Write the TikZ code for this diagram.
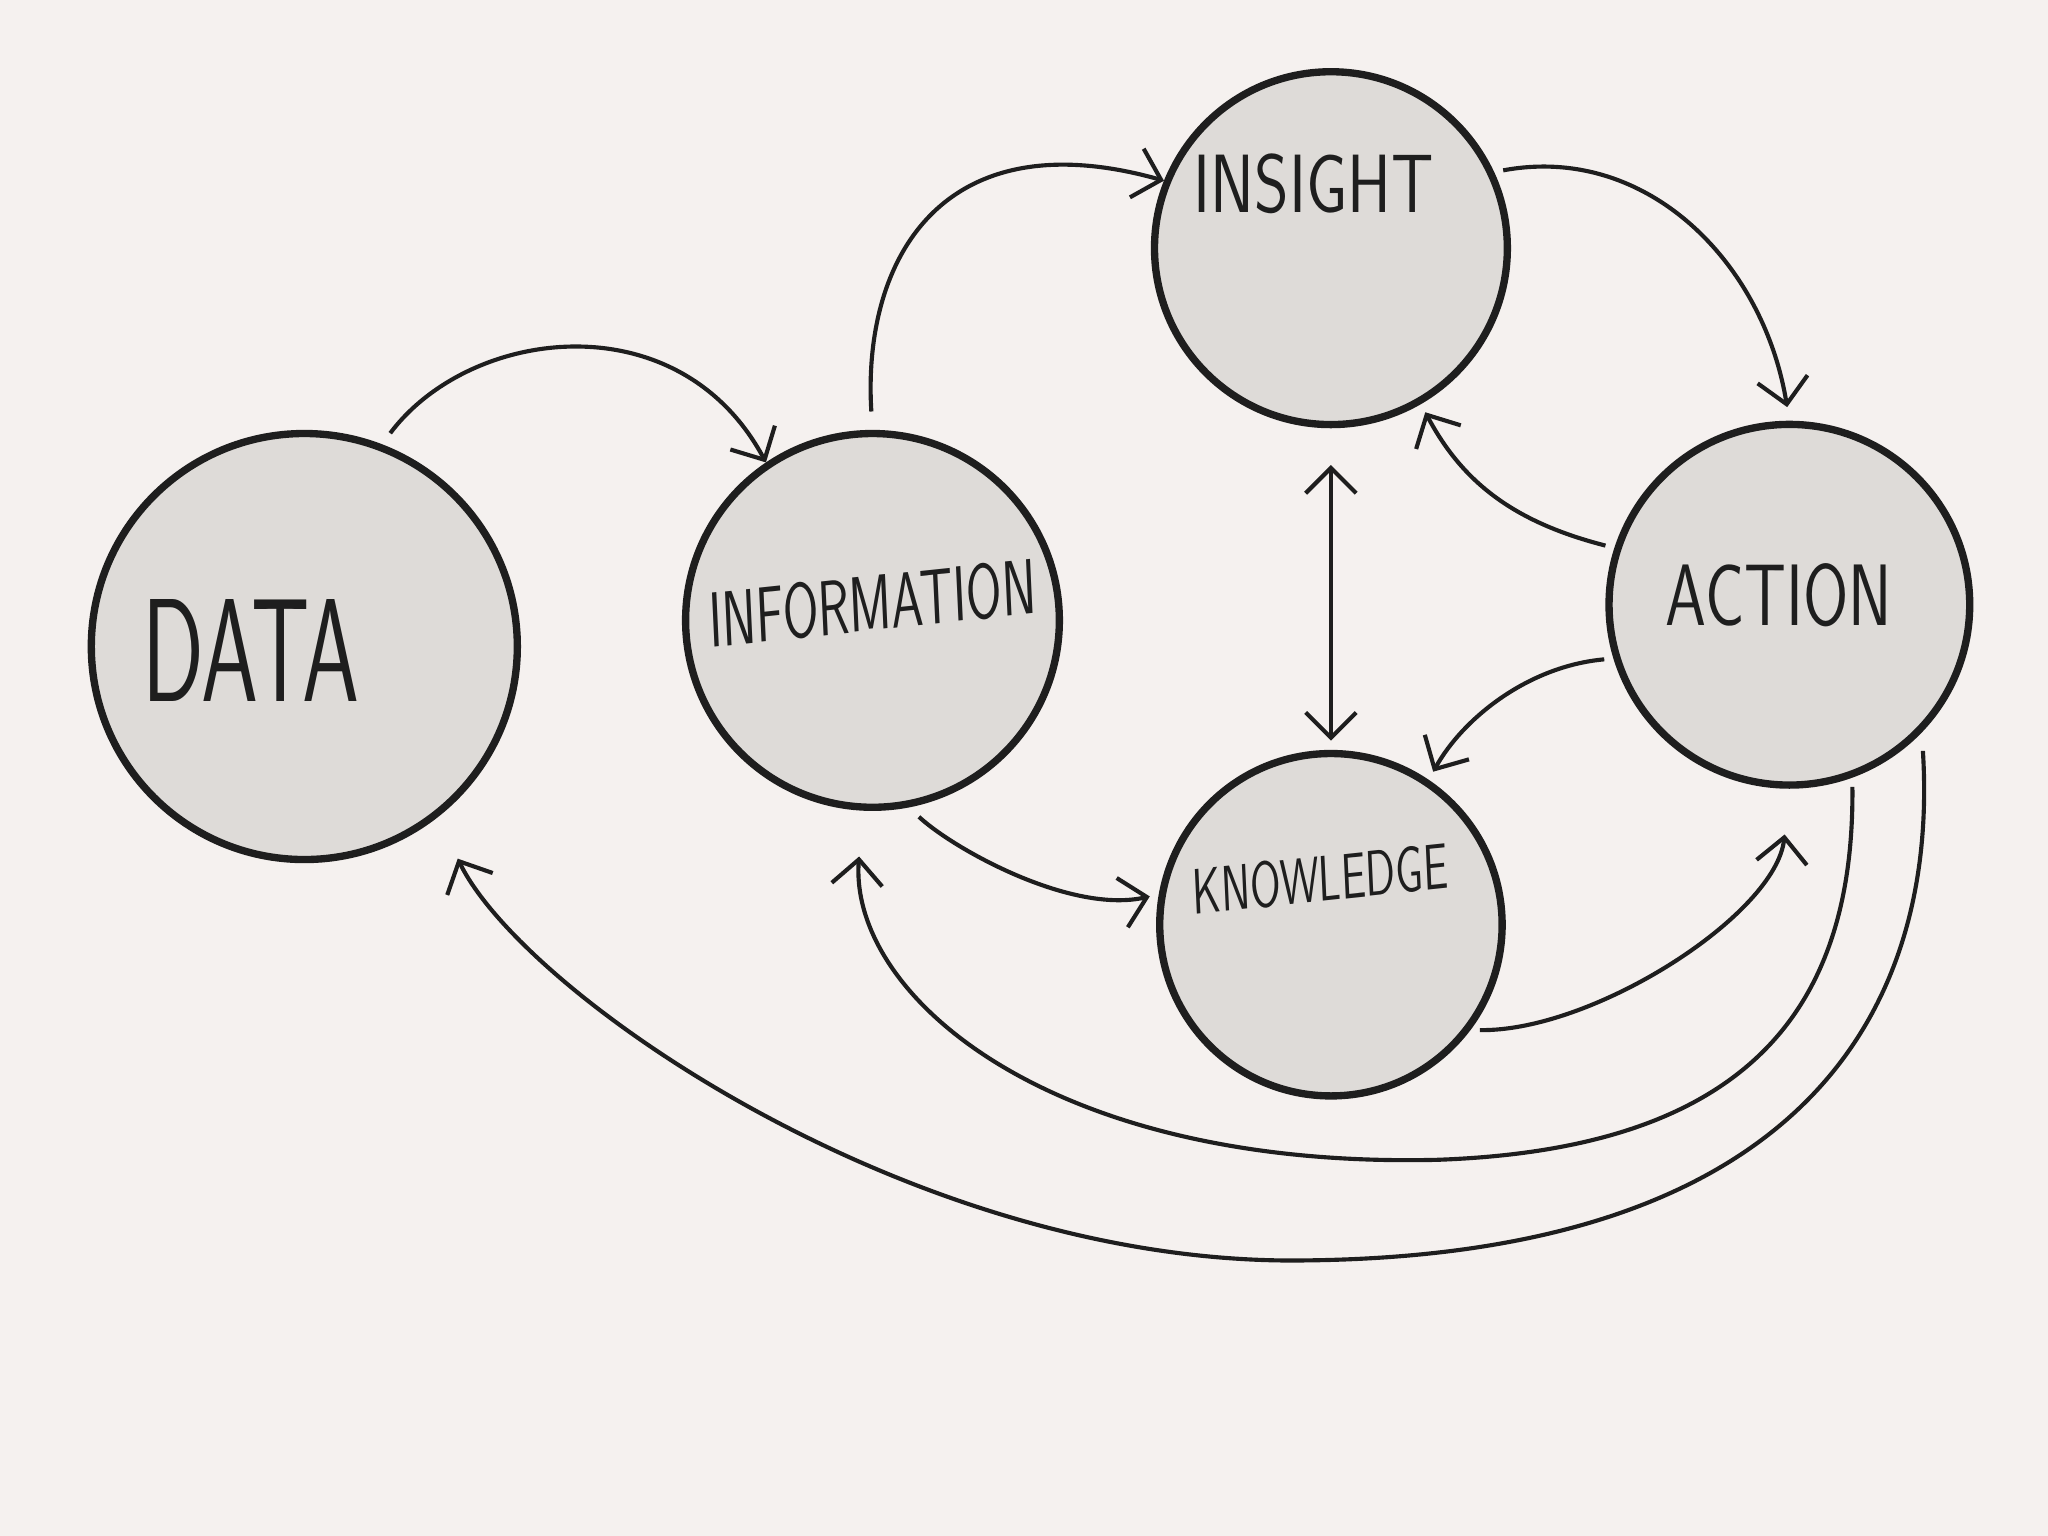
\documentclass[tikz,border=0pt]{standalone}
\usetikzlibrary{arrows.meta}
\definecolor{bg}{HTML}{F5F1EF}
\definecolor{disc}{HTML}{DEDBD8}
\definecolor{ink}{HTML}{1E1E1E}
\tikzset{
  bubble/.style={circle,draw=ink,line width=1.6pt,fill=disc,inner sep=0pt},
  lbl/.style={font=\sffamily,text=ink,inner sep=0pt},
  tip/.tip={Straight Barb[length=5.5pt,width=11pt,line width=0.9pt]},
  flow/.style={draw=ink,line width=0.9pt,-tip},
}
\begin{document}
\begin{tikzpicture}[x=0.01cm,y=-0.01cm]
\fill[bg] (0,0) rectangle (1568,1176);
\useasboundingbox (0,0) rectangle (1568,1176);
\node[bubble,minimum size=3.26cm] (data) at (233,495) {};
\node[bubble,minimum size=2.86cm] (info) at (668,475) {};
\node[bubble,minimum size=2.70cm] (insight) at (1019,190) {};
\node[bubble,minimum size=2.76cm] (action) at (1370,463) {};
\node[bubble,minimum size=2.62cm] (knowledge) at (1019,708) {};
\node[lbl,xscale=0.62,font=\sffamily\fontsize{32}{36}\selectfont] (tdata) at (192,498) {DATA};
\node[lbl,xscale=0.66,font=\sffamily\fontsize{17}{20}\selectfont,rotate=4] (tinfo) at (668,462) {INFORMATION};
\node[lbl,xscale=0.8,font=\sffamily\fontsize{18}{20}\selectfont] (tinsight) at (1006,141) {INSIGHT};
\node[lbl,xscale=0.75,font=\sffamily\fontsize{19}{22}\selectfont] (taction) at (1362,456) {ACTION};
\node[lbl,xscale=0.66,font=\sffamily\fontsize{14}{16}\selectfont,rotate=4] (tknow) at (1011,673) {KNOWLEDGE};
\coordinate (m9) at (1100,888);
\coordinate (m10) at (1000,965);
\draw[flow,shorten <=3pt] (data.69) .. controls (360,250) and (520,230) .. (info.124);
\draw[flow,shorten <=4pt] (info.90) .. controls (660,200) and (720,90) .. (insight.158);
\draw[flow,shorten <=2pt,shorten >=3pt] (insight.25) .. controls (1260,110) and (1350,200) .. (action.90);
\draw[flow,shorten <=2pt,shorten >=2pt] (action.162) .. controls (1160,400) and (1120,370) .. (insight.-60);
\draw[draw=ink,line width=0.9pt,tip-tip,shorten <=8pt,shorten >=2pt] (insight.-90) -- (knowledge.90);
\draw[flow,shorten <=2pt,shorten >=2pt] (action.-163) .. controls (1170,510) and (1120,550) .. (knowledge.56);
\draw[flow,shorten <=3pt,shorten >=2pt] (info.-79) .. controls (730,650) and (820,700) .. (knowledge.170);
\draw[flow,shorten <=2pt,shorten >=10pt] (knowledge.-37) .. controls (1220,790) and (1360,700) .. (action.-90);
\draw[flow,shorten <=2pt,shorten >=10pt] (action.-70) .. controls (1420,780) and (1330,880) .. (m9) .. controls (800,895) and (650,760) .. (info.-93);
\draw[flow,shorten <=4pt,shorten >=10pt] (action.-44) .. controls (1480,700) and (1450,960) .. (m10) .. controls (700,970) and (400,760) .. (data.-52);
\end{tikzpicture}
\end{document}
